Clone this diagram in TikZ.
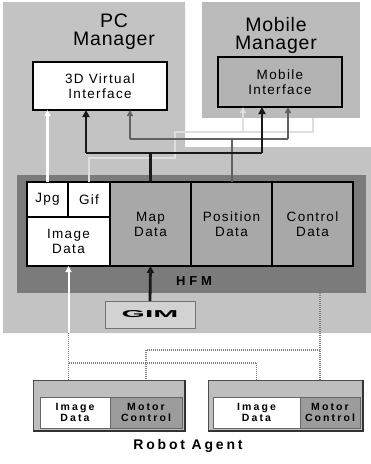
\documentclass[tikz,border=0pt]{standalone}
\usepackage{fontspec}
\usepackage{graphicx}
\setmainfont{Liberation Sans}
\newfontfamily\fA[LetterSpace=4]{Liberation Sans}
\newfontfamily\fB[LetterSpace=10]{Liberation Sans}
\newfontfamily\fC[LetterSpace=20]{Liberation Sans}
\newfontfamily\fD[LetterSpace=30]{Liberation Sans}
\usetikzlibrary{arrows.meta,calc}
\definecolor{bgA}{HTML}{C3C3C3}
\definecolor{bgM}{HTML}{BBBBBB}
\definecolor{mibox}{HTML}{B3B3B3}
\definecolor{hfmc}{HTML}{7B7B7B}
\definecolor{cellc}{HTML}{A8A8A8}
\definecolor{gimc}{HTML}{D2D2D2}
\definecolor{robc}{HTML}{BEBEBE}
\definecolor{motc}{HTML}{9C9C9C}
\begin{document}
\begin{tikzpicture}[x=1pt,y=-1pt,
  box/.style={draw=black,line width=2.2pt,inner sep=0pt,outer sep=0pt,align=center},
  cellfont/.style={font=\fB\fontsize{13.5}{15}\selectfont},
  mgrfont/.style={font=\fA\fontsize{19.5}{18}\selectfont,align=center},
  robbox/.style={fill=robc,draw=black!70,line width=0.6pt,inner sep=0pt,outer sep=0pt},
  robcell/.style={draw=black!60,line width=0.7pt,inner sep=0pt,outer sep=0pt,align=center,
     font=\fC\bfseries\fontsize{10.5}{11.5}\selectfont},
  trunk/.style={draw=black!90,line width=2.8pt},
  posl/.style={draw=black!62,line width=2pt},
  gifl/.style={draw=black!13,line width=2pt},
  jpgl/.style={draw=white,line width=2.4pt},
  dotl/.style={draw=black!50,line width=1.6pt,dash pattern=on 1pt off 1pt},
  tipb/.style={-{Triangle[length=7pt,width=7pt]}},
  tipp/.style={-{Triangle[length=6pt,width=6pt]}}
]
\useasboundingbox (0,0) rectangle (371,464);
% background regions
\fill[bgA] (3,2) -- (185,2) -- (185,147) -- (371,147) -- (371,333) -- (3,333) -- cycle;
\fill[bgM] (202,2) rectangle (360,118);
\node[fill=hfmc,minimum width=349pt,minimum height=118pt,inner sep=0pt,outer sep=0pt] (band) at (191.5,234) {};

% managers
\node[mgrfont] (pcl) at (114,32) {PC\\Manager};
\node[mgrfont] (mml) at (276,35) {Mobile\\Manager};
\node[box,fill=white,minimum width=134pt,minimum height=48pt,cellfont] (vi) at (100,86) {3D Virtual\\Interface};
\node[box,fill=mibox,minimum width=124pt,minimum height=50pt,cellfont] (mi) at (280,82) {Mobile\\Interface};

% HFM cells
\node[box,fill=white,minimum width=41pt,minimum height=35pt,cellfont] (jpg) at (47.5,199.5) {Jpg};
\node[box,fill=white,minimum width=42pt,minimum height=35pt,cellfont] (gif) at (89,199.5) {Gif};
\node[box,fill=white,minimum width=83pt,minimum height=49pt,cellfont] (img) at (68.5,241.5) {Image\\Data};
\node[box,fill=cellc,minimum width=81pt,minimum height=84pt,cellfont] (map) at (150.5,224) {Map\\Data};
\node[box,fill=cellc,minimum width=81pt,minimum height=84pt,cellfont] (pos) at (231.5,224) {Position\\Data};
\node[box,fill=cellc,minimum width=81pt,minimum height=84pt,cellfont] (ctrl) at (312.5,224) {Control\\Data};
\node[font=\fD\bfseries\fontsize{13}{14}\selectfont] (hfm) at (194,281) {HFM};

% GIM
\node[fill=gimc,draw=black!55,line width=0.7pt,minimum width=90pt,minimum height=27pt,inner sep=0pt,outer sep=0pt,
  font=\bfseries\fontsize{10}{11}\selectfont] (gim) at (150,314.5) {\scalebox{3.0}[1]{GIM}};

% robot agents
\node[robbox,minimum width=152pt,minimum height=51pt] (r1) at (109,405.5) {};
\node[robbox,minimum width=155pt,minimum height=51pt] (r2) at (285.5,405.5) {};
\draw[black!80,line width=2pt] (r1.north east) -- (r1.south east) -- (r1.south west);
\draw[black!80,line width=2pt] (r2.north east) -- (r2.south east) -- (r2.south west);
\node[robcell,fill=white,minimum width=70pt,minimum height=31pt] (r1img) at (75,412.5) {Image\\Data};
\node[robcell,fill=motc,minimum width=72pt,minimum height=31pt] (r1mot) at (146,412.5) {Motor\\Control};
\node[robcell,fill=white,minimum width=87pt,minimum height=31pt] (r2img) at (256.5,412.5) {Image\\Data};
\node[robcell,fill=motc,minimum width=60pt,minimum height=31pt] (r2mot) at (330,412.5) {Motor\\Control};
\node[font=\fC\bfseries\fontsize{14}{16}\selectfont] (ra) at (188,446) {Robot Agent};

% connectors: Gif line (light)
\coordinate (g1) at (175,158);
\coordinate (g2) at (175,132);
\coordinate (g3) at (313,132);
\coordinate (g4) at (313,118);
\coordinate (gb) at (243,132);
\draw[gifl] (gif.north) |- (g1) -- (g2) -- (g3) -- (g4);
\draw[gifl,tipp] (gb) -- (gb |- mi.south);
% Jpg line (white)
\draw[jpgl,tipp] (jpg.north) -- (jpg.north |- vi.south);
% Position line (medium)
\coordinate (pl) at (130,139);
\coordinate (pr) at (288,139);
\draw[posl] (pos.north) -- (pos.north |- pl);
\draw[posl,tipp] (pl) -- (pl |- vi.south);
\draw[posl,tipp] (pr) -- (pr |- mi.south);
\draw[posl] (pl) -- (pr);
% Map trunk (dark)
\coordinate (tl) at (86,153);
\coordinate (tr) at (262,153);
\draw[trunk] (map.north) -- (map.north |- tl);
\draw[trunk,tipb] (tl) -- (tl |- vi.south);
\draw[trunk,tipb] (tr) -- (tr |- mi.south);
\draw[trunk] (tl) -- (tr);
% GIM to Map
\draw[trunk,tipb] (gim.north) -- (map.south);
% Image data to robots
\coordinate (i0) at (68.5,333);
\coordinate (ib) at (68.5,363);
\draw[jpgl,line width=2pt,tipp] (i0) -- (img.south);
\draw[dotl] (i0) -- (i0 |- r1.north);
\draw[dotl] (ib) -| (r2img.north |- r2.north);
% Control data to robots
\coordinate (c0) at (320,350);
\draw[dotl] (c0 |- band.south) -- (c0 |- r2.north);
\draw[dotl] (c0) -| (r1mot.north |- r1.north);
\end{tikzpicture}
\end{document}
